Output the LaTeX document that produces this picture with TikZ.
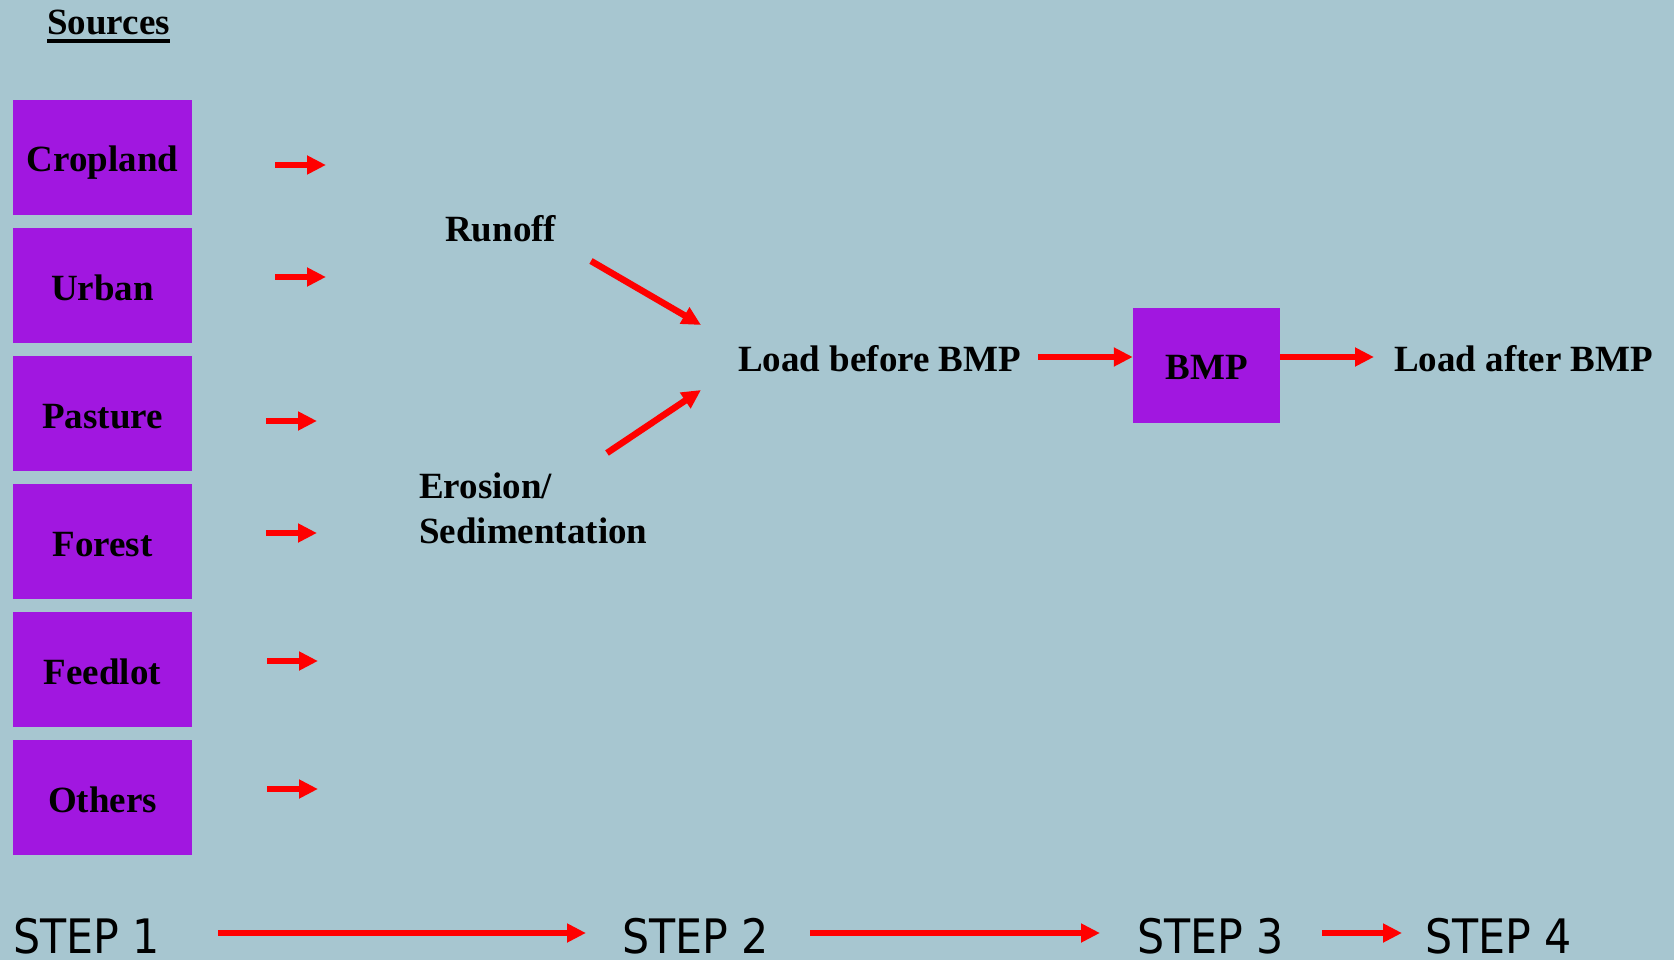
\documentclass[tikz,border=0pt]{standalone}
\usepackage{fontspec}
\setmainfont{Liberation Serif}
\newfontfamily\stepfont{DejaVu Sans Condensed}
\usetikzlibrary{arrows.meta}
\definecolor{bgc}{RGB}{167,198,208}
\definecolor{boxc}{RGB}{161,23,224}
\tikzset{
  rarrow/.style={draw=red, line width=6.5pt, -{Triangle[length=19pt,width=18pt]}},
  srcbox/.style={fill=boxc, draw=none, minimum width=179pt, minimum height=115pt, inner sep=0pt,
     text height=29pt, text depth=0pt, font=\fontsize{37}{44}\selectfont\bfseries},
  lbl/.style={inner sep=0pt, anchor=base west, font=\fontsize{37}{44}\selectfont\bfseries},
  steplbl/.style={inner sep=0pt, anchor=base west, font=\stepfont\fontsize{47.5}{56}\selectfont}
}
\begin{document}
\begin{tikzpicture}[x=1pt,y=-1pt]
\fill[bgc] (0,0) rectangle (1674,960);
\useasboundingbox (0,0) rectangle (1674,960);

\node[lbl] (src) at (47,35) {Sources};
\draw[line width=3.5pt] ([yshift=-6pt]src.base west) -- ([yshift=-6pt]src.base east);

\node[srcbox] (crop) at (102.5,157.5) {Cropland};
\node[srcbox] (urban) at (102.5,285.5) {Urban};
\node[srcbox] (past) at (102.5,413.5) {Pasture};
\node[srcbox] (forest) at (102.5,541.5) {Forest};
\node[srcbox] (feed) at (102.5,669.5) {Feedlot};
\node[srcbox] (others) at (102.5,797.5) {Others};

\coordinate (a1s) at (275,165); \coordinate (a1e) at (326,165);
\coordinate (a2s) at (275,277); \coordinate (a2e) at (326,277);
\coordinate (a3s) at (266,421); \coordinate (a3e) at (317,421);
\coordinate (a4s) at (266,533); \coordinate (a4e) at (317,533);
\coordinate (a5s) at (267,661); \coordinate (a5e) at (318,661);
\coordinate (a6s) at (267,789); \coordinate (a6e) at (318,789);
\draw[rarrow] (a1s) -- (a1e);
\draw[rarrow] (a2s) -- (a2e);
\draw[rarrow] (a3s) -- (a3e);
\draw[rarrow] (a4s) -- (a4e);
\draw[rarrow] (a5s) -- (a5e);
\draw[rarrow] (a6s) -- (a6e);

\node[lbl] (runoff) at (445,242) {Runoff};
\node[lbl] (eros) at (419,498) {Erosion/};
\node[lbl] (sed) at (419,543) {Sedimentation};
\node[lbl] (lbefore) at (738,371) {Load before BMP};

\coordinate (r1) at (591,261); \coordinate (r2) at (701,325);
\coordinate (e1) at (607,453); \coordinate (e2) at (701,390);
\draw[rarrow] (r1) -- (r2);
\draw[rarrow] (e1) -- (e2);

\node[srcbox, minimum width=147pt, minimum height=115pt, text height=27pt] (bmp) at (1206.5,365.5) {BMP};
\coordinate (lb1) at (1038,357);
\draw[rarrow] (lb1) -- (bmp.west |- lb1);
\coordinate (la1) at (1374,357);
\draw[rarrow] (bmp.east |- la1) -- (la1);
\node[lbl] (lafter) at (1394,371) {Load after BMP};

\node[steplbl] (s1) at (13,953) {STEP 1};
\node[steplbl] (s2) at (622,953) {STEP 2};
\node[steplbl] (s3) at (1137,953) {STEP 3};
\node[steplbl] (s4) at (1425,953) {STEP 4};
\coordinate (st1a) at (218,933); \coordinate (st1b) at (586,933);
\coordinate (st2a) at (810,933); \coordinate (st2b) at (1100,933);
\coordinate (st3a) at (1322,933); \coordinate (st3b) at (1402,933);
\draw[rarrow] (st1a) -- (st1b);
\draw[rarrow] (st2a) -- (st2b);
\draw[rarrow] (st3a) -- (st3b);
\end{tikzpicture}
\end{document}
